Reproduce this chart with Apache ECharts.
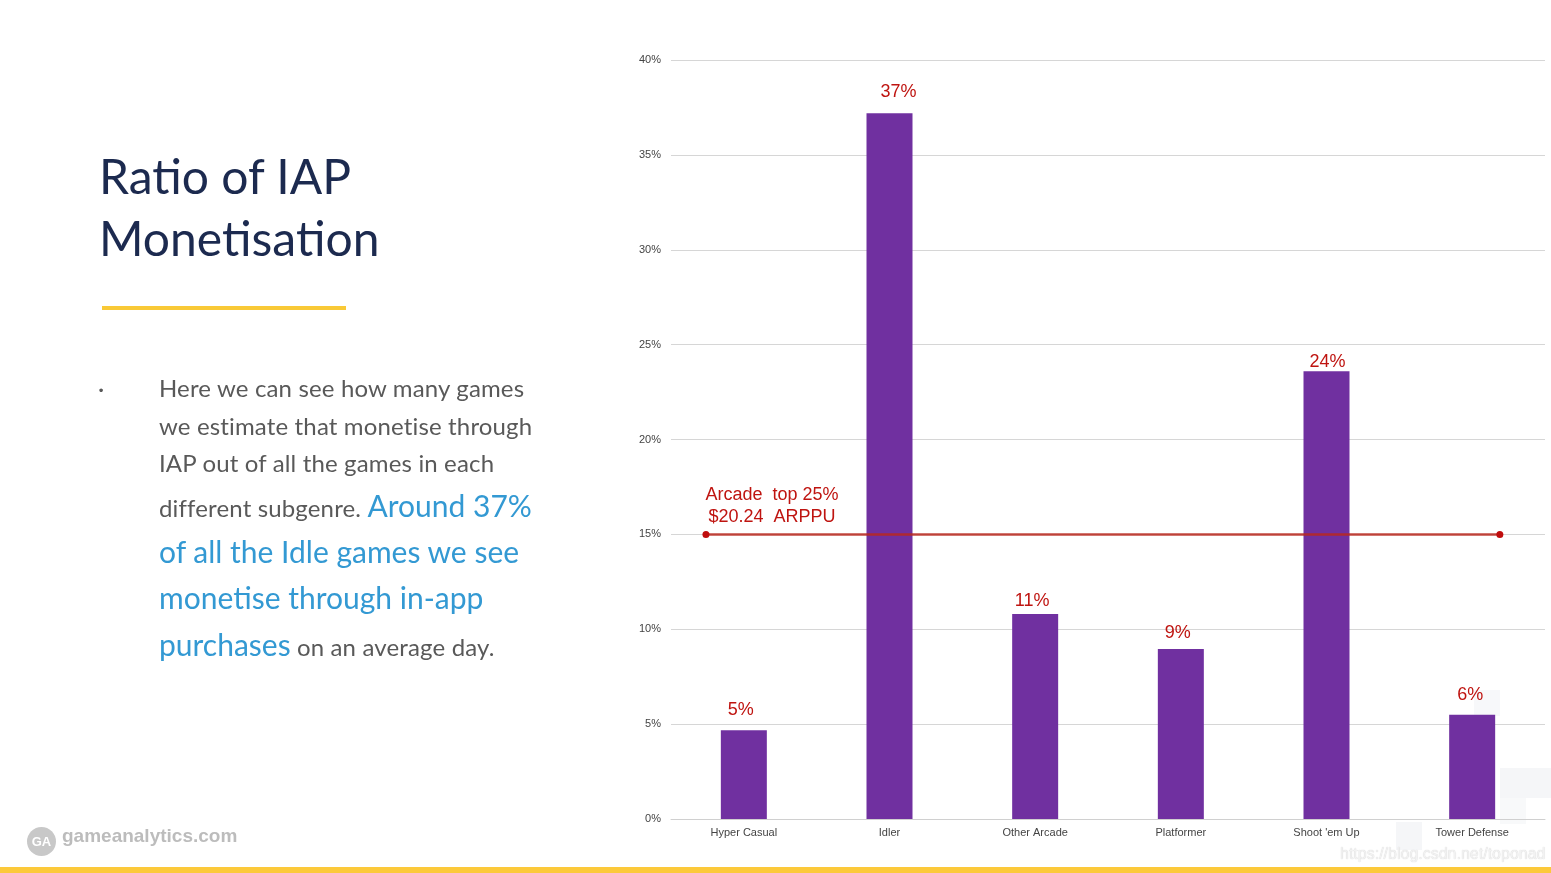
<!DOCTYPE html>
<html>
<head>
<meta charset="utf-8">
<script src="https://cdn.jsdelivr.net/npm/echarts@6/dist/echarts.min.js"></script>
<style>
  html, body { margin:0; padding:0; background:#fff; width:1551px; height:873px; overflow:hidden; }
  #chart { position:absolute; left:0; top:0; width:1551px; height:873px; }
  .txt { position:absolute; white-space:nowrap; font-family: Lato, "Open Sans", sans-serif; }
  .title { color:#1c2a4f; font-size:48px; line-height:60px; left:99px; }
  .body { color:#595959; font-size:24px; left:159px; line-height:28px; letter-spacing:0.15px; }
  .blue { color:#3399d3; font-size:30px; letter-spacing:0; }
  #yellowTop { position:absolute; left:102px; top:306px; width:244px; height:4px; background:#f9c936; }
  #yellowBottom { position:absolute; left:0; top:867px; width:1551px; height:6px; background:#fcc93a; }
  .brand { position:absolute; left:62px; top:825px; font-family:"Liberation Sans", Arial, sans-serif; font-weight:bold; font-size:19px; color:#bcbcbc; }
  .logo { position:absolute; left:27px; top:827px; width:29px; height:29px; border-radius:50%; background:#c8c8c8; color:#fff; font-family:"Liberation Sans", Arial, sans-serif; font-weight:bold; font-size:13px; line-height:29px; text-align:center; }
  .wm { position:absolute; left:1340px; top:845px; font-family:"Liberation Sans", Arial, sans-serif; font-size:16px; color:#f2f2f2; text-shadow: 0 0 1px #c8c8c8; }
  .deco { position:absolute; background:#f5f6f8; }
</style>
</head>
<body>
<div class="deco" style="left:1474px;top:690px;width:26px;height:26px;background:#f7f8fa;"></div>
<div class="deco" style="left:1500px;top:768px;width:51px;height:30px;"></div>
<div class="deco" style="left:1396px;top:822px;width:26px;height:28px;"></div>
<div class="deco" style="left:1500px;top:798px;width:26px;height:26px;background:#f8f9fa;"></div>
<div id="chart"></div>
<div class="txt title" style="top:146px;">Ratio of IAP</div>
<div class="txt title" style="top:208px;">Monetisation</div>
<div id="yellowTop"></div>
<div class="txt body" style="left:98px;top:374px;">·</div>
<div class="txt body" style="top:374px;">Here we can see how many games</div>
<div class="txt body" style="top:412px;">we estimate that monetise through</div>
<div class="txt body" style="top:449px;">IAP out of all the games in each</div>
<div class="txt body" style="top:487px;line-height:36px;">different subgenre. <span class="blue">Around 37%</span></div>
<div class="txt body blue" style="top:533px;line-height:36px;">of all the Idle games we see</div>
<div class="txt body blue" style="top:579px;line-height:36px;">monetise through in-app</div>
<div class="txt body" style="top:626px;line-height:36px;"><span class="blue">purchases</span> on an average day.</div>
<div class="logo">GA</div>
<div class="brand">gameanalytics.com</div>
<div class="wm">https://blog.csdn.net/toponad</div>
<div id="yellowBottom"></div>
<script>
// ---- data ----
var categories = ['Hyper Casual', 'Idler', 'Other Arcade', 'Platformer', "Shoot 'em Up", 'Tower Defense'];
var iapRatio = [4.68, 37.2, 10.8, 8.96, 23.6, 5.5];
var iapLabels = ['5%', '37%', '11%', '9%', '24%', '6%'];
var yTicks = { min: 0, max: 40, interval: 5 };
var arppuLineX = [0.24, 5.69];
var arppuLineY = [15, 15];
var arppuText = 'Arcade  top 25%\n$20.24  ARPPU';

// ---- label placement styles (as in the original slide) ----
var labelGap = [11, 12, 4, 7, 0, 11];
var labelShift = [-3, 9, -3, -3, 1, -2];

var chart = echarts.init(document.getElementById('chart'), null, { renderer: 'canvas' });
var red = '#bf1410';
var barData = iapRatio.map(function (v, i) {
  return { value: v, label: { distance: labelGap[i], offset: [labelShift[i], 0] } };
});
var option = {
  backgroundColor: 'transparent',
  animation: false,
  grid: { left: 671, right: 6, top: 60, bottom: 54, containLabel: false },
  xAxis: [
    {
      type: 'category', data: categories,
      axisLine: { show: true, lineStyle: { color: '#d0d0d0', width: 1 } },
      axisTick: { show: false },
      axisLabel: { color: '#444', fontSize: 11, fontFamily: 'Liberation Sans, Arial, sans-serif', margin: 8 }
    },
    { type: 'value', min: 0, max: 6, show: false }
  ],
  yAxis: {
    type: 'value', min: yTicks.min, max: yTicks.max, interval: yTicks.interval,
    axisLine: { show: false }, axisTick: { show: false },
    axisLabel: { formatter: '{value}%', color: '#444', fontSize: 11, margin: 10, fontFamily: 'Liberation Sans, Arial, sans-serif' },
    splitLine: { lineStyle: { color: '#d6d6d6', width: 1 } }
  },
  series: [
    {
      type: 'bar', data: barData, barWidth: 46,
      itemStyle: { color: '#7030a0' },
      label: {
        show: true, position: 'top',
        formatter: function (p) { return iapLabels[p.dataIndex]; },
        color: red, fontSize: 18, fontFamily: 'Liberation Sans, Arial, sans-serif'
      },
      z: 2
    },
    {
      type: 'line', xAxisIndex: 1,
      data: arppuLineX.map(function (x, i) {
        var item = { value: [x, arppuLineY[i]] };
        if (i === 0) {
          item.label = {
            show: true, position: 'top', distance: 3, offset: [66, 0],
            formatter: arppuText, color: red, fontSize: 18, lineHeight: 22, align: 'center',
            fontFamily: 'Liberation Sans, Arial, sans-serif'
          };
        }
        return item;
      }),
      symbol: 'circle', symbolSize: 7, showSymbol: true,
      lineStyle: { color: '#b8281e', width: 2.5, opacity: 0.85 },
      itemStyle: { color: '#c00d0d' },
      label: { show: false },
      z: 3
    }
  ]
};
chart.setOption(option);
</script>
</body>
</html>
